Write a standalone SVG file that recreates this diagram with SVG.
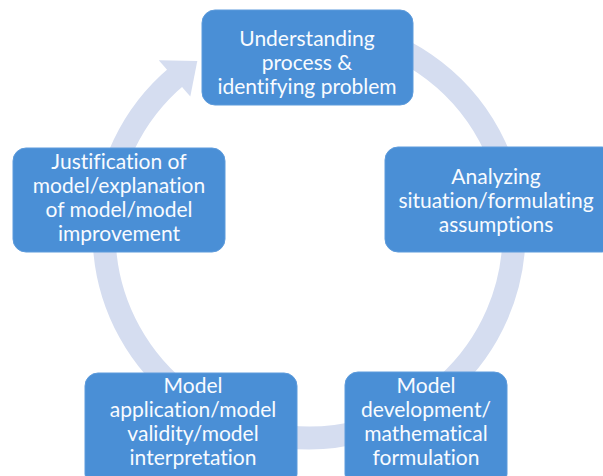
<svg xmlns="http://www.w3.org/2000/svg" width="603" height="476" viewBox="0 0 603 476">
<defs>
<style>
.box{fill:#4a8fd6;stroke:#5d9bdc;stroke-width:1}
.t{font-family:Lato,"Liberation Sans",sans-serif;font-size:21px;fill:#f8fbff;text-anchor:middle;font-variant-ligatures:none}
.ring{fill:none;stroke:#d5ddf0;stroke-width:23}
.head{fill:#d5ddf0}
</style>
</defs>
<rect width="603" height="476" fill="#ffffff"/>
<g id="connectors">
<path class="ring" d="M344.6,31.1 A205,205 0 1 1 177.2,76.0"/>
<polygon class="head" points="158.8,60.2 197.3,61.1 190.3,96.4"/>
</g>
<g id="node-understanding">
<rect class="box" x="202" y="10" width="211" height="95" rx="13"/>
<text class="t"><tspan x="307" y="46">Understanding</tspan><tspan x="307" y="70">process &amp;</tspan><tspan x="307" y="94">identifying problem</tspan></text>
</g>
<g id="node-analyzing">
<rect class="box" x="385" y="147" width="230" height="105" rx="13"/>
<text class="t"><tspan x="496" y="184">Analyzing</tspan><tspan x="496" y="208">situation/formulating</tspan><tspan x="496" y="232">assumptions</tspan></text>
</g>
<g id="node-development">
<rect class="box" x="345" y="372" width="162" height="115" rx="13"/>
<text class="t"><tspan x="426" y="393">Model</tspan><tspan x="426" y="417">development/</tspan><tspan x="426" y="441">mathematical</tspan><tspan x="426" y="465">formulation</tspan></text>
</g>
<g id="node-application">
<rect class="box" x="85" y="373" width="212" height="114" rx="13"/>
<text class="t"><tspan x="193" y="393">Model</tspan><tspan x="193" y="417">application/model</tspan><tspan x="193" y="441">validity/model</tspan><tspan x="193" y="465">interpretation</tspan></text>
</g>
<g id="node-justification">
<rect class="box" x="13" y="148" width="212" height="104" rx="13"/>
<text class="t"><tspan x="119" y="169">Justification of</tspan><tspan x="119" y="193">model/explanation</tspan><tspan x="119" y="217">of model/model</tspan><tspan x="119" y="241">improvement</tspan></text>
</g>
</svg>
